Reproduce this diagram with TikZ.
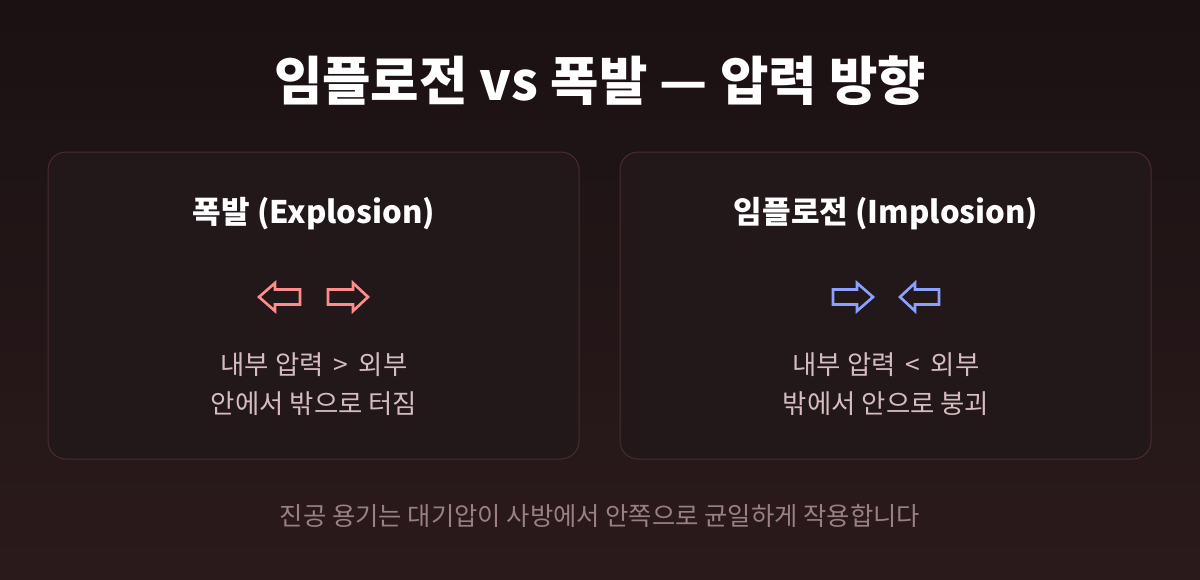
\documentclass[tikz,border=0pt]{standalone}
\usepackage{fontspec}
\setmainfont{Noto Sans CJK KR}
\definecolor{bgA}{HTML}{1A1113}
\definecolor{bgB}{HTML}{2B1A1B}
\definecolor{cardfill}{HTML}{221719}
\definecolor{cardline}{HTML}{4A2C30}
\definecolor{bodytxt}{HTML}{D6BCC0}
\definecolor{foottxt}{HTML}{9A8084}
\definecolor{pinkarrow}{HTML}{FF8C8C}
\definecolor{bluearrow}{HTML}{8CA0FF}
\tikzset{
  card/.style={draw=cardline, fill=cardfill, line width=0.75pt, rounded corners=13.5pt},
  heading/.style={text=white, font=\fontsize{23.3}{28}\selectfont\bfseries},
  body/.style={text=bodytxt, font=\fontsize{19.8}{29.2}\selectfont, align=center},
  foot/.style={text=foottxt, font=\fontsize{19}{22}\selectfont},
  arr/.style={line width=2pt, line join=miter},
}
\begin{document}
\begin{tikzpicture}[x=0.75pt,y=-0.75pt]
\shade[left color=bgA, right color=bgB, shading angle=0] (0,0) rectangle (1200,579);
\useasboundingbox (0,0) rectangle (1200,579);
\node[text=white, font=\fontsize{39.5}{44}\selectfont\bfseries] (title) at (600,81) {임플로전 vs 폭발 — 압력 방향};
% cards
\draw[card] (48,152) rectangle (579,459);
\draw[card] (620,152) rectangle (1151,459);
\node (lcard) at (313.5,305) {};
\node (rcard) at (885.5,305) {};
\node[heading] (lhead) at (314,214) {폭발 (Explosion)};
\node[heading] (rhead) at (886,214) {임플로전 (Implosion)};
% arrows explosion
\draw[arr, pinkarrow] (259,297) -- (275,283) -- (275,289.5) -- (300,289.5) -- (300,304.5) -- (275,304.5) -- (275,311) -- cycle;
\draw[arr, pinkarrow] (368,297) -- (353,283) -- (353,289.5) -- (328,289.5) -- (328,304.5) -- (353,304.5) -- (353,311) -- cycle;
% arrows implosion
\draw[arr, bluearrow] (873,297) -- (857,283) -- (857,289.5) -- (833,289.5) -- (833,304.5) -- (857,304.5) -- (857,311) -- cycle;
\draw[arr, bluearrow] (900,297) -- (915,283) -- (915,289.5) -- (939,289.5) -- (939,304.5) -- (915,304.5) -- (915,311) -- cycle;
\node[body] (ltext) at (314,384) {내부 압력 \,>\, 외부\\안에서 밖으로 터짐};
\node[body] (rtext) at (886,384) {내부 압력 \,<\, 외부\\밖에서 안으로 붕괴};
\node[foot] (footer) at (600,516) {진공 용기는 대기압이 사방에서 안쪽으로 균일하게 작용합니다};
\end{tikzpicture}
\end{document}
